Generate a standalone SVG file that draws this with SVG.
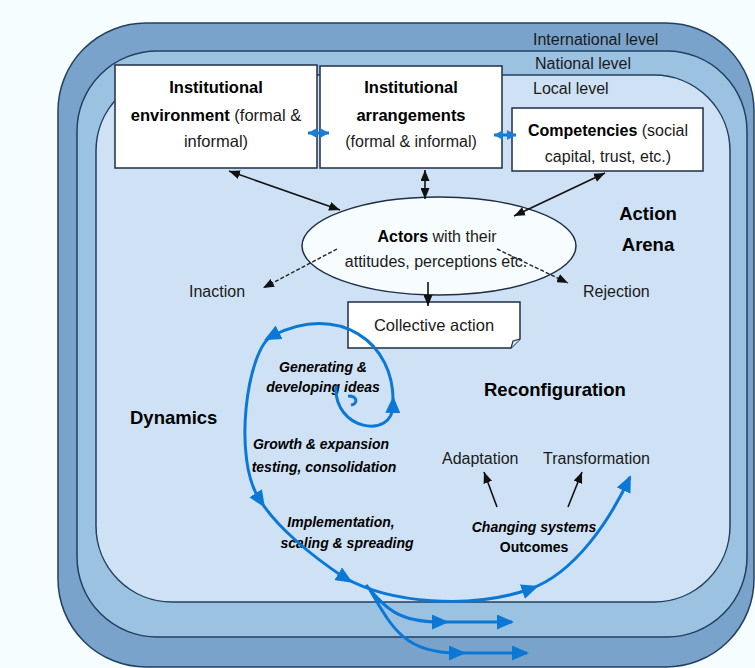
<svg xmlns="http://www.w3.org/2000/svg" width="755" height="668" viewBox="0 0 755 668">
<style>
.t{font-family:"Liberation Sans",Arial,sans-serif;fill:#1a1a1a}
.b{font-weight:bold;fill:#000}
.r{font-size:16px}
.bx{font-size:16.5px}
.big{font-size:18.5px;font-weight:bold;fill:#000}
.bi{font-size:14px;font-weight:bold;font-style:italic;fill:#000}
.band{stroke:#22405f;stroke-width:1.5}
.node{fill:#fff;stroke:#1f2f45;stroke-width:1.5}
.blk{fill:none;stroke:#111;stroke-width:1.6}
.dash{fill:none;stroke:#222;stroke-width:1.4;stroke-dasharray:4 2}
.blue{fill:none;stroke:#0b78d6;stroke-width:3}
</style>
<defs>
<marker id="bEnd" markerUnits="userSpaceOnUse" markerWidth="17" markerHeight="15" refX="15" refY="7.5" orient="auto"><path d="M0,0 L17,7.5 L0,15 z" fill="#0b78d6"/></marker>
<marker id="bMid" markerUnits="userSpaceOnUse" markerWidth="17" markerHeight="15" refX="8" refY="7.5" orient="auto"><path d="M0,0 L17,7.5 L0,15 z" fill="#0b78d6"/></marker>
<marker id="k" markerUnits="userSpaceOnUse" markerWidth="11" markerHeight="9" refX="11" refY="4.5" orient="auto-start-reverse"><path d="M0,0 L11,4.5 L0,9 z" fill="#111"/></marker>
<marker id="sb" markerUnits="userSpaceOnUse" markerWidth="9" markerHeight="10" refX="9" refY="5" orient="auto-start-reverse"><path d="M0,0 L9,5 L0,10 z" fill="#1a7fd4"/></marker>
</defs>
<rect width="755" height="668" fill="#f6fdff"/>
<g id="levels">
<rect class="band" x="58" y="23" width="696" height="644" rx="88" fill="#79a3cb"/>
<rect class="band" x="77" y="51" width="670" height="586" rx="80" fill="#9cc2e2"/>
<rect class="band" x="96" y="75" width="634" height="527" rx="76" fill="#cfe2f5"/>
<text class="t r" x="533" y="45">International level</text>
<text class="t r" x="535" y="69">National level</text>
<text class="t r" x="533" y="94">Local level</text>
</g>
<g id="institutional-environment">
<rect class="node" x="115" y="65" width="202" height="103"/>
<text class="t bx b" x="216" y="93" text-anchor="middle">Institutional</text>
<text class="t bx" x="216" y="121" text-anchor="middle"><tspan class="b">environment</tspan> (formal &amp;</text>
<text class="t bx" x="216" y="147" text-anchor="middle">informal)</text>
</g>
<g id="institutional-arrangements">
<rect class="node" x="320" y="66" width="182" height="102"/>
<text class="t bx b" x="411" y="93" text-anchor="middle">Institutional</text>
<text class="t bx b" x="411" y="121" text-anchor="middle">arrangements</text>
<text class="t r" x="411" y="147" text-anchor="middle">(formal &amp; informal)</text>
</g>
<g id="competencies">
<rect class="node" x="512" y="108" width="191" height="63"/>
<text class="t r" x="608" y="136" text-anchor="middle"><tspan class="b">Competencies</tspan> (social</text>
<text class="t r" x="608" y="162" text-anchor="middle">capital, trust, etc.)</text>
</g>
<g id="actors">
<ellipse cx="439" cy="246" rx="137" ry="49" fill="#f7fcff" stroke="#1f2f45" stroke-width="1.5"/>
<text class="t r" x="437" y="242" text-anchor="middle"><tspan class="b">Actors</tspan> with their</text>
<text class="t r" x="436" y="267" text-anchor="middle">attitudes, perceptions etc.</text>
</g>
<g id="inaction"><text class="t r" x="189" y="297" font-size="16.5">Inaction</text></g>
<g id="rejection"><text class="t r" x="583" y="297">Rejection</text></g>
<g id="collective-action">
<path d="M348,302 H520 V339 L511,348 H348 Z" fill="#fff" stroke="#1f2f45" stroke-width="1.5"/>
<path d="M520,339 L513,341 L511,348" fill="#dde6ef" stroke="#1f2f45" stroke-width="1.2"/>
<text class="t bx" x="434" y="331" text-anchor="middle">Collective action</text>
</g>
<g id="labels">
<text class="t big" x="648" y="220" text-anchor="middle">Action</text>
<text class="t big" x="648" y="251" text-anchor="middle">Arena</text>
<text class="t big" x="484" y="396">Reconfiguration</text>
<text class="t big" x="130" y="424">Dynamics</text>
<text class="t bi" x="323" y="372" text-anchor="middle">Generating &amp;</text>
<text class="t bi" x="323" y="392" text-anchor="middle">developing ideas</text>
<text class="t bi" x="321" y="449" text-anchor="middle">Growth &amp; expansion</text>
<text class="t bi" x="324" y="472" text-anchor="middle">testing, consolidation</text>
<text class="t bi" x="341" y="527" text-anchor="middle">Implementation,</text>
<text class="t bi" x="347" y="548" text-anchor="middle">scaling &amp; spreading</text>
<text class="t bi" x="534" y="532" text-anchor="middle">Changing systems</text>
<text class="t b" x="534" y="552" text-anchor="middle" font-size="14">Outcomes</text>
<text class="t r" x="442" y="464">Adaptation</text>
<text class="t r" x="543" y="464">Transformation</text>
</g>
<g id="connectors">
<path class="blue" d="M308,133 H329" marker-start="url(#sb)" marker-end="url(#sb)"/>
<path class="blue" d="M494,135 H516" marker-start="url(#sb)" marker-end="url(#sb)"/>
<path class="blk" d="M229,171 L340,210" marker-start="url(#k)" marker-end="url(#k)"/>
<path class="blk" d="M425,170 L425,199" marker-start="url(#k)" marker-end="url(#k)"/>
<path class="blk" d="M605,173 L514,216" marker-start="url(#k)" marker-end="url(#k)"/>
<path class="dash" d="M337,249 L263,288" marker-end="url(#k)"/>
<path class="dash" d="M497,249 L568,283" marker-end="url(#k)"/>
<path class="blk" d="M428,282 L428,306" marker-end="url(#k)"/>
<path class="blk" d="M497,507 L484,472" marker-end="url(#k)"/>
<path class="blk" d="M568,507 L582,472" marker-end="url(#k)"/>
<path class="blue" d="M336,386 C333,430 393,440 393,405 C396,342 338,302 272,336 C247,349 232,460 260,500 C275,525 310,555 345,578 C390,603 470,610 530,589 C575,573 610,520 630,477" marker-mid="url(#bMid)" marker-end="url(#bEnd)"/>
<path class="blue" d="M348,396 C358,396 358,404 351,405" stroke-width="2.2"/>
<path class="blue" d="M366,585 C385,608 398,622 440,622 L512,622" marker-mid="url(#bMid)" marker-end="url(#bEnd)"/>
<path class="blue" d="M370,590 C392,628 405,653 457,653 L527,653" marker-mid="url(#bMid)" marker-end="url(#bEnd)"/>
</g>
</svg>
